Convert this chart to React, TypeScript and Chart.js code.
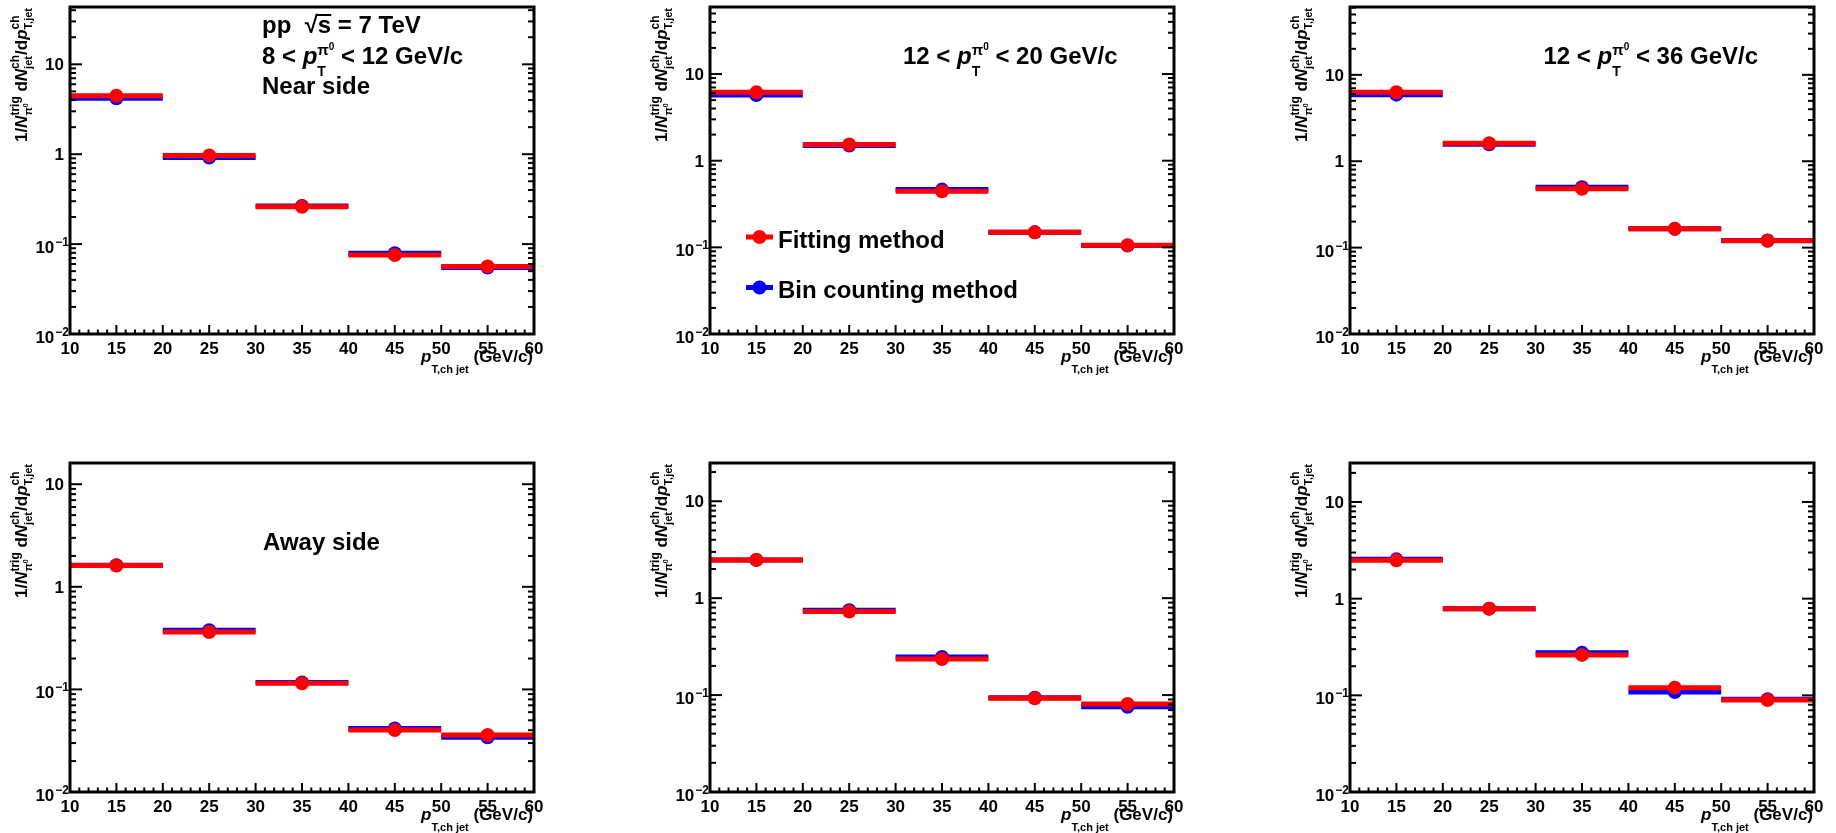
import React, { useEffect, useRef } from "react";
import { Chart, registerables } from "chart.js";
Chart.register(...registerables);

// ---------------- data ----------------
const BIN_EDGES = [10, 20, 30, 40, 50, 60];
const BIN_CENTERS = [15, 25, 35, 45, 55];
const X_TICK_LABELS = ["10", "15", "20", "25", "30", "35", "40", "45", "50", "55", "60"];
const Y_DECADES = [0.01, 0.1, 1, 10];
const Y_DECADE_LABELS: [string, string][] = [["10", "\u22122"], ["10", "\u22121"], ["1", ""], ["10", ""]];

const NEAR_8_12_FIT = [4.47, 0.97, 0.26, 0.0755, 0.0565];
const NEAR_8_12_BIN = [4.2, 0.92, 0.265, 0.079, 0.055];
const NEAR_12_20_FIT = [6.15, 1.54, 0.444, 0.149, 0.1055];
const NEAR_12_20_BIN = [5.74, 1.5, 0.464, 0.149, 0.105];
const NEAR_12_36_FIT = [6.28, 1.61, 0.481, 0.165, 0.12];
const NEAR_12_36_BIN = [5.9, 1.57, 0.5, 0.165, 0.121];
const AWAY_8_12_FIT = [1.61, 0.363, 0.115, 0.0401, 0.036];
const AWAY_8_12_BIN = [1.62, 0.377, 0.117, 0.0416, 0.0342];
const AWAY_12_20_FIT = [2.48, 0.728, 0.236, 0.0925, 0.0808];
const AWAY_12_20_BIN = [2.48, 0.75, 0.247, 0.094, 0.0758];
const AWAY_12_36_FIT = [2.49, 0.788, 0.262, 0.12, 0.0895];
const AWAY_12_36_BIN = [2.55, 0.788, 0.276, 0.108, 0.091];

const Y_MAX = [43.4, 59.4, 61, 16.1, 24.8, 25.3];

const LEGEND_LABELS = ["Fitting method", "Bin counting method"];
const RED = "#ff0000";
const BLUE = "#0000ff";

// ---------------- rich text helpers ----------------
type Seg = { t: string; s: number; i?: boolean; dy?: number };
type Stack = { sup: Seg[]; sub: Seg[]; supDy: number; subDy: number };
type Piece = Seg | Stack;
const FAM = '"Liberation Sans", Arial, Helvetica, sans-serif';
const fnt = (s: number, i?: boolean) => `${i ? "italic " : ""}bold ${s}px ${FAM}`;
function segW(ctx: CanvasRenderingContext2D, seg: Seg) {
  ctx.font = fnt(seg.s, seg.i);
  return ctx.measureText(seg.t).width;
}
function segsW(ctx: CanvasRenderingContext2D, segs: Seg[]) {
  return segs.reduce((a, s) => a + segW(ctx, s), 0);
}
function pieceW(ctx: CanvasRenderingContext2D, p: Piece) {
  return "sup" in p ? Math.max(segsW(ctx, p.sup), segsW(ctx, p.sub)) : segW(ctx, p);
}
function richW(ctx: CanvasRenderingContext2D, ps: Piece[]) {
  return ps.reduce((a, p) => a + pieceW(ctx, p), 0);
}
function drawSegs(ctx: CanvasRenderingContext2D, x: number, y: number, segs: Seg[]) {
  for (const s of segs) {
    ctx.font = fnt(s.s, s.i);
    ctx.fillText(s.t, x, y + (s.dy || 0));
    x += ctx.measureText(s.t).width;
  }
  return x;
}
function drawRich(ctx: CanvasRenderingContext2D, x: number, y: number, ps: Piece[]) {
  for (const p of ps) {
    if ("sup" in p) {
      drawSegs(ctx, x, y + p.supDy, p.sup);
      drawSegs(ctx, x, y + p.subDy, p.sub);
      x += pieceW(ctx, p);
    } else {
      x = drawSegs(ctx, x, y, [p]);
    }
  }
  return x;
}

const Y_TITLE: Piece[] = [
  { t: "1/", s: 17 },
  { t: "N", s: 17, i: true },
  { sup: [{ t: "trig", s: 12 }], sub: [{ t: "\u03c0", s: 11 }, { t: "0", s: 7, dy: -4 }], supDy: -8, subDy: 5 },
  { t: " d", s: 17 },
  { t: "N", s: 17, i: true },
  { sup: [{ t: "ch", s: 12 }], sub: [{ t: "jet", s: 11 }], supDy: -8, subDy: 5 },
  { t: "/d", s: 17 },
  { t: "p", s: 17, i: true },
  { sup: [{ t: "ch", s: 12 }], sub: [{ t: "T,jet", s: 11 }], supDy: -8, subDy: 5 },
];
const X_TITLE: Piece[] = [
  { t: "p", s: 17, i: true },
  { sup: [], sub: [{ t: "T,ch jet", s: 11 }], supDy: 0, subDy: 11 },
  { t: " (GeV/c)", s: 17 },
];
const ptRange = (lo: string, hi: string): Piece[] => [
  { t: `${lo} < `, s: 24 },
  { t: "p", s: 24, i: true },
  { sup: [{ t: "\u03c0", s: 15 }, { t: "0", s: 10, dy: -5 }], sub: [{ t: "T", s: 14 }], supDy: -9, subDy: 12 },
  { t: ` < ${hi} GeV/c`, s: 24 },
];

// ---------------- panel config ----------------
type PanelCfg = {
  fit: number[];
  bin: number[];
  yMax: number;
  col: number;
  row: number;
  kind: "near812" | "near1220" | "near1236" | "away" | "none";
};
const PANELS: PanelCfg[] = [
  { fit: NEAR_8_12_FIT, bin: NEAR_8_12_BIN, yMax: Y_MAX[0], col: 0, row: 0, kind: "near812" },
  { fit: NEAR_12_20_FIT, bin: NEAR_12_20_BIN, yMax: Y_MAX[1], col: 1, row: 0, kind: "near1220" },
  { fit: NEAR_12_36_FIT, bin: NEAR_12_36_BIN, yMax: Y_MAX[2], col: 2, row: 0, kind: "near1236" },
  { fit: AWAY_8_12_FIT, bin: AWAY_8_12_BIN, yMax: Y_MAX[3], col: 0, row: 1, kind: "away" },
  { fit: AWAY_12_20_FIT, bin: AWAY_12_20_BIN, yMax: Y_MAX[4], col: 1, row: 1, kind: "none" },
  { fit: AWAY_12_36_FIT, bin: AWAY_12_36_BIN, yMax: Y_MAX[5], col: 2, row: 1, kind: "none" },
];
const COL_LEFT = [0, 640, 1280];
const ROW_TOP = [0, 416];
const CW = 556;
const CH = 417;

function binSegments(vals: number[]) {
  const out: { x: number; y: number | null }[] = [];
  vals.forEach((v, i) => {
    out.push({ x: BIN_EDGES[i], y: v }, { x: BIN_EDGES[i + 1], y: v }, { x: BIN_EDGES[i + 1], y: null });
  });
  return out;
}
const points = (vals: number[]) => BIN_CENTERS.map((x, i) => ({ x, y: vals[i] }));

function line(ctx: CanvasRenderingContext2D, x1: number, y1: number, x2: number, y2: number) {
  ctx.beginPath();
  ctx.moveTo(x1, y1);
  ctx.lineTo(x2, y2);
  ctx.stroke();
}

function makePlugin(cfg: PanelCfg) {
  return {
    id: "rootFrame",
    afterDatasetsDraw(chart: any) {
      const ctx: CanvasRenderingContext2D = chart.ctx;
      const { left, top, right, bottom } = chart.chartArea;
      const xs = chart.scales.x;
      const ys = chart.scales.y;
      ctx.save();
      ctx.strokeStyle = "#000";
      ctx.fillStyle = "#000";
      ctx.lineWidth = 2;
      // x ticks
      for (let v = BIN_EDGES[0]; v <= BIN_EDGES[BIN_EDGES.length - 1]; v++) {
        const px = xs.getPixelForValue(v);
        const len = v % 5 === 0 ? 9 : 4.5;
        line(ctx, px, bottom, px, bottom - len);
      }
      // y ticks
      for (let e = -2; e <= 2; e++) {
        for (let k = 1; k <= 9; k++) {
          const val = k * Math.pow(10, e);
          if (val < 0.0099 || val > cfg.yMax) continue;
          const py = ys.getPixelForValue(val);
          const len = k === 1 ? 12 : 6;
          line(ctx, left, py, left + len, py);
          line(ctx, right, py, right - len, py);
        }
      }
      // frame
      ctx.lineWidth = 3;
      ctx.strokeRect(left, top, right - left, bottom - top);

      // x tick labels
      ctx.textAlign = "center";
      ctx.textBaseline = "alphabetic";
      ctx.font = fnt(17);
      X_TICK_LABELS.forEach((lab) => {
        ctx.fillText(lab, xs.getPixelForValue(Number(lab)), bottom + 20);
      });
      // y tick labels
      ctx.textAlign = "left";
      Y_DECADES.forEach((val, i) => {
        const py = ys.getPixelForValue(val);
        const [base, ex] = Y_DECADE_LABELS[i];
        if (!ex) {
          ctx.font = fnt(17);
          const w = ctx.measureText(base).width;
          ctx.fillText(base, left - 6 - w, py + 6);
        } else {
          ctx.font = fnt(12);
          const we = ctx.measureText(ex).width;
          ctx.fillText(ex, left - 1 - we, py + 2);
          ctx.font = fnt(17);
          const wb = ctx.measureText(base).width;
          ctx.fillText(base, left - 2 - we - wb, py + 9);
        }
      });
      // x title (right aligned)
      const wx = richW(ctx, X_TITLE);
      drawRich(ctx, right - 1 - wx, bottom + 28, X_TITLE);
      // y title (rotated, right aligned at top)
      const wy = richW(ctx, Y_TITLE);
      ctx.save();
      ctx.translate(left - 43, top + 1);
      ctx.rotate(-Math.PI / 2);
      drawRich(ctx, -wy, 0, Y_TITLE);
      ctx.restore();

      // annotations
      if (cfg.kind === "near812") {
        const x0 = left + 192;
        let x = drawRich(ctx, x0, top + 26, [{ t: "pp  ", s: 24 }]);
        ctx.font = fnt(24);
        ctx.fillText("\u221a", x, top + 26);
        x += ctx.measureText("\u221a").width;
        const ws = ctx.measureText("s").width;
        ctx.fillText("s", x, top + 26);
        ctx.fillRect(x - 2, top + 26 - 19, ws + 2, 2);
        x += ws;
        drawRich(ctx, x, top + 26, [{ t: " = 7 TeV", s: 24 }]);
        drawRich(ctx, x0, top + 57, ptRange("8", "12"));
        drawRich(ctx, x0, top + 87, [{ t: "Near side", s: 24 }]);
      } else if (cfg.kind === "near1220") {
        drawRich(ctx, left + 193, top + 57, ptRange("12", "20"));
        // legend
        const items = [
          { c: RED, y: top + 230, t: LEGEND_LABELS[0] },
          { c: BLUE, y: top + 280.5, t: LEGEND_LABELS[1] },
        ];
        for (const it of items) {
          ctx.strokeStyle = it.c;
          ctx.fillStyle = it.c;
          ctx.lineWidth = 5;
          line(ctx, left + 36, it.y, left + 63, it.y);
          ctx.beginPath();
          ctx.arc(left + 49.5, it.y, 7, 0, Math.PI * 2);
          ctx.fill();
          ctx.fillStyle = "#000";
          drawRich(ctx, left + 68, it.y + 10.5, [{ t: it.t, s: 24 }]);
        }
      } else if (cfg.kind === "near1236") {
        drawRich(ctx, left + 193.5, top + 57, ptRange("12", "36"));
      } else if (cfg.kind === "away") {
        drawRich(ctx, left + 193, top + 86.5, [{ t: "Away side", s: 24 }]);
      }
      ctx.restore();
    },
  };
}

function Panel({ cfg }: { cfg: PanelCfg }) {
  const ref = useRef<HTMLCanvasElement>(null);
  useEffect(() => {
    const canvas = ref.current!;
    const barStyle = (c: string, order: number) => ({
      type: "line" as const,
      borderColor: c,
      backgroundColor: c,
      borderWidth: 5,
      borderCapStyle: "butt" as const,
      pointRadius: 0,
      spanGaps: false,
      tension: 0,
      order,
    });
    const ptStyle = (c: string, order: number) => ({
      type: "line" as const,
      showLine: false,
      pointRadius: 7,
      pointBackgroundColor: c,
      pointBorderWidth: 0,
      pointBorderColor: c,
      borderColor: c,
      backgroundColor: c,
      order,
    });
    const chart = new Chart(canvas, {
      type: "line",
      data: {
        datasets: [
          { label: LEGEND_LABELS[0] + " pts", data: points(cfg.fit), ...ptStyle(RED, 0) },
          { label: LEGEND_LABELS[0], data: binSegments(cfg.fit), ...barStyle(RED, 1) },
          { label: LEGEND_LABELS[1] + " pts", data: points(cfg.bin), ...ptStyle(BLUE, 2) },
          { label: LEGEND_LABELS[1], data: binSegments(cfg.bin), ...barStyle(BLUE, 3) },
        ] as any,
      },
      options: {
        responsive: false,
        animation: false,
        events: [],
        layout: {
          padding: cfg.row === 0 ? { left: 70, right: 22, top: 6, bottom: 83 } : { left: 70, right: 22, top: 47, bottom: 41 },
        },
        plugins: { legend: { display: false }, tooltip: { enabled: false }, title: { display: false } },
        scales: {
          x: { type: "linear", min: BIN_EDGES[0], max: BIN_EDGES[BIN_EDGES.length - 1], display: false },
          y: { type: "logarithmic", min: Y_DECADES[0], max: cfg.yMax, display: false },
        },
      },
      plugins: [makePlugin(cfg)],
    });
    return () => chart.destroy();
  }, [cfg]);
  return (
    <canvas
      ref={ref}
      width={CW}
      height={CH}
      style={{ position: "absolute", left: COL_LEFT[cfg.col], top: ROW_TOP[cfg.row], width: CW, height: CH }}
    />
  );
}

export default function App() {
  return (
    <div style={{ position: "absolute", left: 0, top: 0, width: 1836, height: 833, background: "#fff", overflow: "hidden" }}>
      {PANELS.map((p, i) => (
        <Panel key={i} cfg={p} />
      ))}
    </div>
  );
}
